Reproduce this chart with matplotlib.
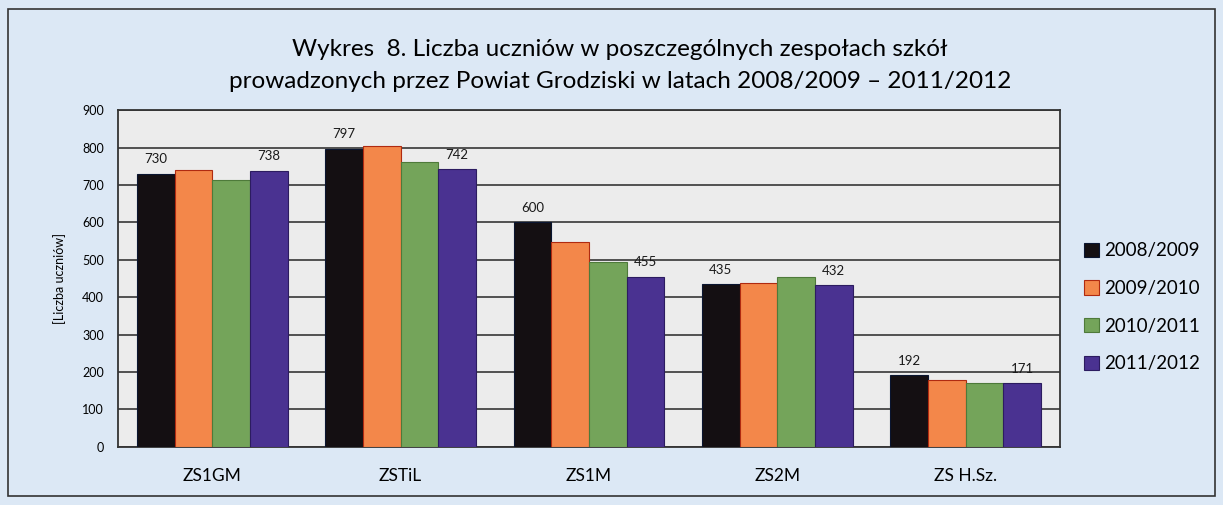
import matplotlib.pyplot as plt
import matplotlib.patches as patches
import numpy as np

plt.rcParams['font.family'] = ['Lato', 'DejaVu Sans']

# data
schools = ['ZS1GM', 'ZSTiL', 'ZS1M', 'ZS2M', 'ZS H.Sz.']
years = ['2008/2009', '2009/2010', '2010/2011', '2011/2012']
y0809 = [730, 797, 600, 435, 192]
y0910 = [740, 805, 548, 437, 180]
y1011 = [712, 760, 495, 455, 172]
y1112 = [738, 742, 455, 432, 171]
series = [y0809, y0910, y1011, y1112]
colors = ['#140f12', '#f3874a', '#74a45a', '#4a3291']
edges = ['#0a1530', '#b02a10', '#4e7a3a', '#2c1c60']
labelled = [0, 3]   # only first and last year have value labels

bg = '#dce8f5'
fig = plt.figure(figsize=(12.23, 5.05), dpi=100, facecolor=bg)
ax = fig.add_axes([0.0965, 0.115, 0.770, 0.667])
ax.set_facecolor('#ececec')

x = np.arange(len(schools))
w = 0.2
for i, (vals, c, ec) in enumerate(zip(series, colors, edges)):
    pos = x + (i - 1.5) * w
    ax.bar(pos, vals, width=w, color=c, edgecolor=ec, linewidth=0.8,
           label=years[i], zorder=3)
    if i in labelled:
        for px, v in zip(pos, vals):
            ax.annotate(str(v), (px, v), xytext=(0, 6), textcoords='offset points',
                        ha='center', va='bottom', fontsize=9.5, color='#1a1a1a')

ax.set_xlim(-0.5, len(schools) - 0.5)
ax.set_ylim(0, 900)
ax.set_yticks(np.arange(0, 901, 100))
ax.yaxis.grid(True, color='#444444', linewidth=1.3, zorder=0)
ax.set_axisbelow(True)
ax.set_xticks(x)
ax.set_xticklabels(schools, fontsize=12.5)
ax.tick_params(axis='x', length=0, pad=15)
ax.tick_params(axis='y', length=0, pad=10, labelsize=9)
for s in ax.spines.values():
    s.set_color('#333333')
    s.set_linewidth(1.3)

ax.set_ylabel('[Liczba uczniów]', fontsize=9, labelpad=12)

fig.text(0.507, 0.902, 'Wykres  8. Liczba uczniów w poszczególnych zespołach szkół',
         ha='center', va='center', fontsize=17.5)
fig.text(0.507, 0.838, 'prowadzonych przez Powiat Grodziski w latach 2008/2009 \u2013 2011/2012',
         ha='center', va='center', fontsize=17.5)

fig.legend(loc='upper left', bbox_to_anchor=(0.880, 0.535), frameon=False,
           fontsize=13.5, handlelength=0.8, handleheight=0.8, handletextpad=0.3,
           labelspacing=1.1, borderaxespad=0)

# outer frame around the whole chart
fig.patches.append(patches.Rectangle((8 / 1223, 9 / 505), 1207 / 1223, 487 / 505,
                                     transform=fig.transFigure, fill=False,
                                     edgecolor='#333333', linewidth=1.2))

plt.savefig('out.png', dpi=100, facecolor=bg)
